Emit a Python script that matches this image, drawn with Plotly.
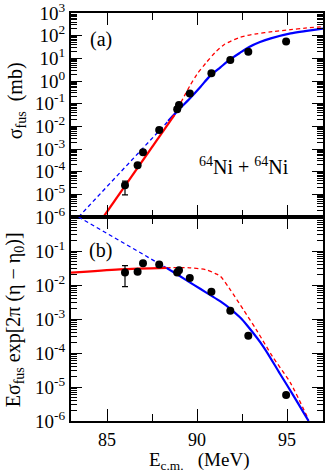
import plotly.graph_objects as go
from plotly.subplots import make_subplots

# measured points
e_exp = [86.0, 86.7, 87.0, 87.9, 88.9, 89.0, 89.6, 90.8, 91.85, 92.85, 94.95]
sig_exp = [2.5e-5, 1.9e-4, 7.1e-4, 6.9e-3, 0.056, 0.087, 0.28, 2.2, 8.5, 19.5, 55.0]
sig_err_up = [1.3e-5, None, None, None, None, None, None, None, None, None, None]
sig_err_dn = [1.55e-5, None, None, None, None, None, None, None, None, None, None]
s_exp = [0.0234, 0.0245, 0.0437, 0.040, 0.0234, 0.027, 0.0162, 0.0063, 0.00174, 3.2e-4, 5.8e-6]
s_err_up = [0.0137, None, None, None, None, None, None, None, None, None, None]
s_err_dn = [0.0145, None, None, None, None, None, None, None, None, None, None]

# panel (a) curves
e_a_red = [84.8, 88.75]
sig_a_red = [1.0e-6, 3.2e-2]
e_a_red_d = [88.75, 89.0, 89.3, 89.6, 90.0, 90.5, 91.0, 91.5, 92.4, 93.3, 94.2, 95.2, 96.0, 97.0]
sig_a_red_d = [3.2e-2, 7.9e-2, 0.22, 0.6, 2.0, 6.3, 17.8, 40, 85, 120, 150, 185, 215, 251]
e_a_blue_d = [83.42, 88.4]
sig_a_blue_d = [1.0e-6, 1.7e-2]
e_a_blue = [88.4, 89.0, 89.6, 90.2, 90.7, 91.3, 91.8, 92.4, 92.9, 93.5, 94.1, 95.2, 96.0, 97.0]
sig_a_blue = [1.7e-2, 5.6e-2, 0.17, 0.56, 1.6, 4.0, 8.5, 17.8, 31.6, 52, 76, 126, 158, 204]

# panel (b) curves
e_b_red = [83.0, 85.7, 88.3]
s_b_red = [2.3e-2, 2.9e-2, 3.2e-2]
e_b_red_d = [88.3, 89.6, 90.5, 91.0, 91.3, 91.8, 92.6, 93.3, 94.2, 95.2, 96.2]
s_b_red_d = [3.2e-2, 3.2e-2, 2.8e-2, 2.2e-2, 1.8e-2, 7.9e-3, 1.8e-3, 4.8e-4, 7.8e-5, 1.3e-5, 1.07e-6]
e_b_blue_d = [83.42, 88.3]
s_b_blue_d = [1.0, 3.2e-2]
e_b_blue = [88.3, 89.0, 89.6, 90.2, 90.7, 91.3, 91.8, 92.4, 92.8, 93.7, 94.6, 95.5, 96.2]
s_b_blue = [3.2e-2, 1.9e-2, 1.2e-2, 7.6e-3, 5.2e-3, 3.3e-3, 2.1e-3, 1.1e-3, 6.3e-4, 1.5e-4, 2.5e-5, 4.2e-6, 1.0e-6]

# tick labels
top_exps = [-6, -5, -4, -3, -2, -1, 0, 1, 2, 3]
bot_exps = [-6, -5, -4, -3, -2, -1]
x_ticks = [85, 90, 95]

FONT = "Liberation Serif"
RED = "#ff0000"
BLUE = "#0000ff"

fig = make_subplots(rows=2, cols=1, shared_xaxes=True, vertical_spacing=0)


def curve(x, y, color, dash, width, row):
    fig.add_trace(go.Scatter(
        x=x, y=y, mode='lines',
        line=dict(color=color, dash=dash, width=width, shape='spline', smoothing=0.8)),
        row=row, col=1)


curve(e_a_blue_d, sig_a_blue_d, BLUE, '4px,3px', 1.3, 1)
curve(e_a_red_d, sig_a_red_d, RED, '4px,3px', 1.3, 1)
curve(e_a_blue, sig_a_blue, BLUE, 'solid', 2.2, 1)
curve(e_a_red, sig_a_red, RED, 'solid', 2.2, 1)

curve(e_b_blue_d, s_b_blue_d, BLUE, '4px,3px', 1.3, 2)
curve(e_b_red_d, s_b_red_d, RED, '4px,3px', 1.3, 2)
curve(e_b_blue, s_b_blue, BLUE, 'solid', 2.2, 2)
curve(e_b_red, s_b_red, RED, 'solid', 2.2, 2)

for row, y, up, dn in [(1, sig_exp, sig_err_up, sig_err_dn), (2, s_exp, s_err_up, s_err_dn)]:
    fig.add_trace(go.Scatter(
        x=e_exp, y=y, mode='markers',
        marker=dict(color='black', size=8),
        error_y=dict(type='data', array=up, arrayminus=dn, symmetric=False,
                     color='black', thickness=1.2, width=3)),
        row=row, col=1)


def sup_labels(exps):
    return [f"10<sup>{e}</sup>" for e in exps]


def minor_vals(lo, hi):
    return [m * 10 ** k for k in range(lo, hi) for m in range(2, 10)]


axis_common = dict(
    showline=True, linecolor='black', linewidth=2, mirror='allticks',
    ticks='inside', tickcolor='black', tickwidth=1.2, showgrid=False, zeroline=False,
    automargin=False, ticklabeloverflow='allow',
    tickfont=dict(family=FONT, size=19, color='black'))

fig.update_yaxes(type='log', range=[-6, 3], tickmode='array',
                 tickvals=[10 ** e for e in top_exps], ticktext=sup_labels(top_exps),
                 ticklen=11,
                 minor=dict(ticks='inside', ticklen=6, tickcolor='black', tickwidth=1,
                            tickmode='array', tickvals=minor_vals(-6, 3)),
                 row=1, col=1, **axis_common)
fig.update_yaxes(type='log', range=[-6, 0], tickmode='array',
                 tickvals=[10 ** e for e in bot_exps], ticktext=sup_labels(bot_exps),
                 ticklen=11,
                 minor=dict(ticks='inside', ticklen=6, tickcolor='black', tickwidth=1,
                            tickmode='array', tickvals=minor_vals(-6, 0)),
                 row=2, col=1, **axis_common)
fig.update_xaxes(range=[83, 97], tickmode='array', tickvals=x_ticks,
                 ticktext=[str(v) for v in x_ticks], ticklen=12,
                 minor=dict(ticks='inside', ticklen=7, tickcolor='black', tickwidth=1,
                            tickmode='array', tickvals=[87.5, 92.5]),
                 **axis_common)
fig.update_xaxes(showticklabels=False, row=1, col=1)
fig.update_xaxes(ticklabelstandoff=1, tickfont=dict(family=FONT, size=18, color='black'),
                 row=2, col=1)

ann_font = dict(family=FONT, size=20, color='black')


def label(text, x, y, angle=0, size=20):
    fig.add_annotation(text=text, x=x, y=y, xref='paper', yref='paper',
                       xanchor='center', yanchor='middle', textangle=angle,
                       showarrow=False, font=dict(ann_font, size=size))


label("(a)", 0.119, 0.934)
label("(b)", 0.119, 0.417)
label("<sup>64</sup>Ni + <sup>64</sup>Ni", 0.685, 0.625)
label("σ<sub>fus</sub>\u00a0\u00a0(mb)", -0.218, 0.784, -90)
label("Eσ<sub>fus</sub> exp[2π (η − η<sub>0</sub>)]", -0.225, 0.2475, -90)
label("E<sub>c.m.</sub>\u00a0\u00a0\u00a0(MeV)", 0.508, -0.099, size=19)

fig.update_layout(
    width=327, height=474,
    margin=dict(l=71, r=4, t=13, b=53),
    showlegend=False,
    plot_bgcolor='white', paper_bgcolor='white',
    font=dict(family=FONT, color='black'))

fig.write_html("out.html", config={'displayModeBar': False},
               post_script="document.body.style.margin='0';")
